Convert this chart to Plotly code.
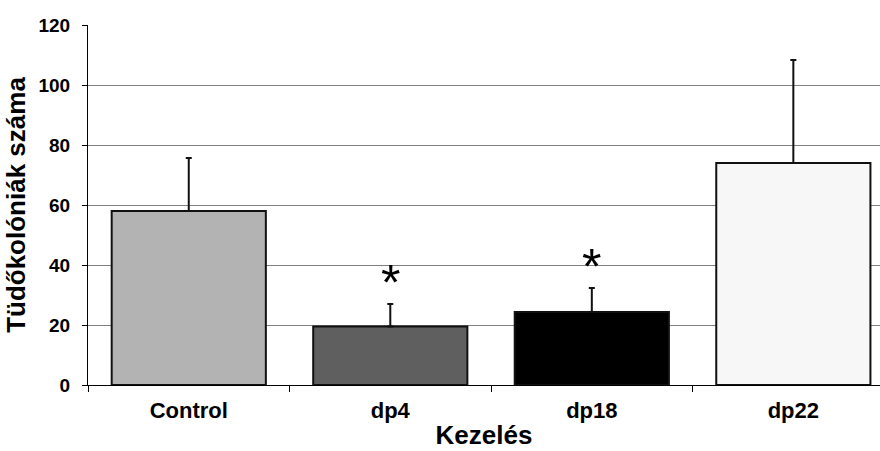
import plotly.graph_objects as go

# Lung colony counts per treatment group
categories = ["Control", "dp4", "dp18", "dp22"]
means = [58, 19.5, 24.3, 74]
errors = [17.7, 7.5, 8.0, 34.3]
significance = ["", "*", "*", ""]
bar_colors = ["#b3b3b3", "#5f5f5f", "#000000", "#f7f7f7"]

fig = go.Figure()

fig.add_trace(go.Bar(
    x=categories,
    y=means,
    width=0.765,
    marker=dict(color=bar_colors, line=dict(color="#111111", width=2)),
    error_y=dict(type="data", symmetric=False, array=errors,
                 arrayminus=[0] * len(errors),
                 color="#111111", thickness=2, width=3),
))

# Significance markers above the error bars
for cat, m, e, s in zip(categories, means, errors, significance):
    if s:
        fig.add_annotation(x=cat, y=m + e, text=s, showarrow=False,
                           yanchor="middle", yshift=21,
                           font=dict(family="Liberation Sans", size=50, color="#000000"))

fig.update_layout(
    width=880, height=451,
    margin=dict(l=88, r=0, t=25, b=66),
    paper_bgcolor="white", plot_bgcolor="white",
    showlegend=False,
    font=dict(family="Liberation Sans", color="#000000"),
)

fig.update_xaxes(
    range=[-0.5, 3.43],
    showline=True, linecolor="#000000", linewidth=1,
    ticks="outside", tickson="boundaries", ticklen=6, tickcolor="#000000",
    tickfont=dict(size=22, family="Liberation Sans", weight="bold"),
    ticklabelstandoff=6,
    title=dict(text="<b>Kezelés</b>", font=dict(size=26), standoff=3),
    showgrid=False, automargin=False,
)

fig.update_yaxes(
    range=[0, 120], dtick=20,
    showline=True, linecolor="#000000", linewidth=1,
    ticks="outside", tickson="labels", ticklen=5, tickcolor="#000000",
    tickfont=dict(size=19, family="Liberation Sans", weight="bold"),
    ticklabelstandoff=8,
    showgrid=True, gridcolor="#808080", gridwidth=1,
    zeroline=False,
    title=dict(text="<b>Tüdőkolóniák száma</b>", font=dict(size=26), standoff=5),
    automargin=False,
)

fig.write_html("out.html")
